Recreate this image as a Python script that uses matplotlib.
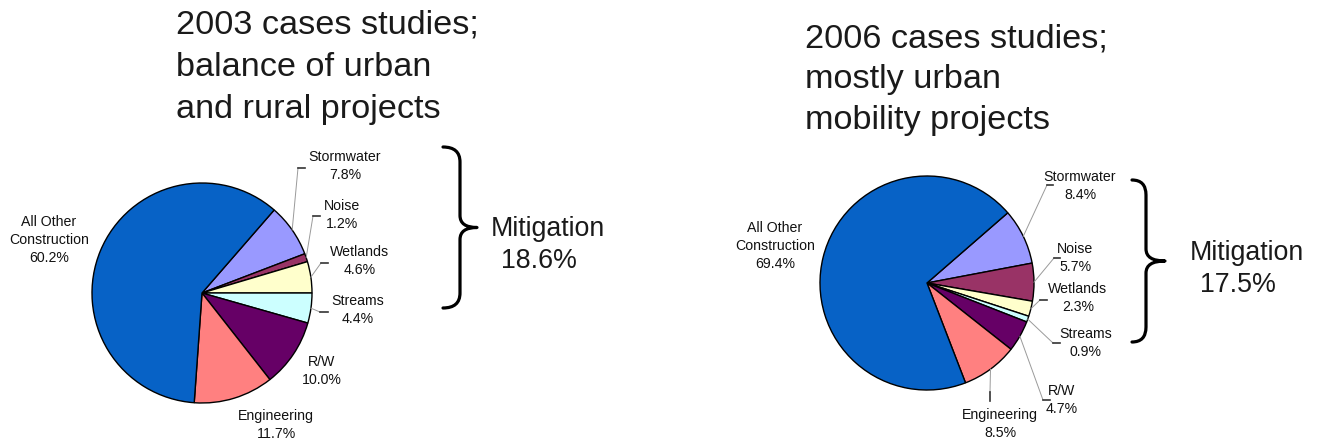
import numpy as np
import matplotlib
matplotlib.use("Agg")
import matplotlib.pyplot as plt
from matplotlib.path import Path
from matplotlib.patches import PathPatch

plt.rcParams["font.family"] = ["Liberation Sans", "DejaVu Sans"]

# ---- data (clockwise order, starting at the Stormwater wedge) ----
CATEGORIES = ["Stormwater", "Noise", "Wetlands", "Streams", "R/W",
              "Engineering", "All Other\nConstruction"]
SHARE_2003 = [7.8, 1.2, 4.6, 4.4, 10.0, 11.7, 60.2]
SHARE_2006 = [8.4, 5.7, 2.3, 0.9, 4.7, 8.5, 69.4]
MITIGATION_2003 = 18.6
MITIGATION_2006 = 17.5
TITLE_2003 = ["2003 cases studies;", "balance of urban", "and rural projects"]
TITLE_2006 = ["2006 cases studies;", "mostly urban", "mobility projects"]

COLORS = ["#9999FF", "#993366", "#FFFFCC", "#CCFFFF", "#660066",
          "#FF8080", "#0762C6"]

W, H = 1321, 442  # figure size in pixels (dpi 100)

# ---- layout, in pixels from the top-left corner ----
PANELS = [
    dict(values=SHARE_2003, mitigation=MITIGATION_2003, title=TITLE_2003,
         center=(202, 293), radius=110, start=49,
         title_x=176, title_y=[34, 76, 118],
         labels=[(345, 166), (342, 215), (360, 261), (358, 310),
                 (322, 371), (276, 425), (49, 240)],
         leaders=[((298, 168), (305, 168)), ((313, 216), (320, 216)),
                  ((321, 263), (328, 263)), ((320, 312), (328, 312)),
                  None, None, None],
         brace=dict(x0=443, xv=460, xt=477, top=147, bottom=308),
         mit_xy=[(491, 236), (501, 268)]),
    dict(values=SHARE_2006, mitigation=MITIGATION_2006, title=TITLE_2006,
         center=(927, 283), radius=107, start=41,
         title_x=805, title_y=[47, 88, 129],
         labels=[(1080, 186), (1075, 258), (1078, 298), (1086, 343),
                 (1062, 400), (1000, 424), (775, 246)],
         leaders=[((1047, 185), (1053, 185)), ((1054, 258), (1060, 258)),
                  ((1040, 300), (1047, 300)), ((1053, 343), (1060, 343)),
                  ((1043, 400), (1050, 400)), ((990, 392), (990, 401)),
                  None],
         brace=dict(x0=1132, xv=1146, xt=1165, top=180, bottom=342),
         mit_xy=[(1190, 260), (1200, 292)]),
]


def draw_brace(ax, x0, xv, xt, top, bottom, r=15, rt=12):
    mid = (top + bottom) / 2
    verts = [(x0, top), (xv, top), (xv, top + r),
             (xv, mid - rt), (xv, mid), (xt, mid),
             (xv, mid), (xv, mid + rt),
             (xv, bottom - r), (xv, bottom), (x0, bottom)]
    codes = [Path.MOVETO, Path.CURVE3, Path.CURVE3,
             Path.LINETO, Path.CURVE3, Path.CURVE3,
             Path.CURVE3, Path.CURVE3,
             Path.LINETO, Path.CURVE3, Path.CURVE3]
    ax.add_patch(PathPatch(Path(verts, codes), fill=False,
                           edgecolor="black", linewidth=2.3,
                           capstyle="round", joinstyle="round"))


fig = plt.figure(figsize=(W / 100, H / 100), dpi=100)

overlay = fig.add_axes([0, 0, 1, 1])
overlay.set_xlim(0, W)
overlay.set_ylim(H, 0)
overlay.axis("off")
overlay.set_zorder(5)

for p in PANELS:
    cx, cy = p["center"]
    r = p["radius"]
    ax = fig.add_axes([(cx - r) / W, (H - cy - r) / H, 2 * r / W, 2 * r / H])
    wedges, _ = ax.pie(p["values"], colors=COLORS, startangle=p["start"],
                       counterclock=False,
                       wedgeprops=dict(edgecolor="black", linewidth=1.0,
                                       clip_on=False))
    ax.set_xlim(-1, 1)
    ax.set_ylim(-1, 1)
    ax.axis("off")

    for name, val, w, (lx, ly), lead in zip(CATEGORIES, p["values"], wedges,
                                            p["labels"], p["leaders"]):
        overlay.text(lx, ly, f"{name}\n{val:.1f}%", ha="center", va="center",
                     multialignment="center", fontsize=10.2, linespacing=1.38,
                     color="#111111")
        if lead is not None:
            t = np.deg2rad((w.theta1 + w.theta2) / 2)
            ax_x = cx + r * np.cos(t)
            ax_y = cy - r * np.sin(t)
            (sx, sy), (ex, ey) = lead
            overlay.plot([ax_x, sx], [ax_y, sy], color="#9a9a9a", lw=0.7)
            overlay.plot([sx, ex], [sy, ey], color="#333333", lw=1.2)

    for line, y in zip(p["title"], p["title_y"]):
        overlay.text(p["title_x"], y, line, ha="left", va="baseline",
                     fontsize=24.7, color="#1a1a1a")

    draw_brace(overlay, **p["brace"])
    (mx1, my1), (mx2, my2) = p["mit_xy"]
    overlay.text(mx1, my1, "Mitigation", ha="left", va="baseline",
                 fontsize=19.3, color="#1a1a1a")
    overlay.text(mx2, my2, f"{p['mitigation']:.1f}%", ha="left",
                 va="baseline", fontsize=19.3, color="#1a1a1a")

fig.savefig("out.png", dpi=100)
